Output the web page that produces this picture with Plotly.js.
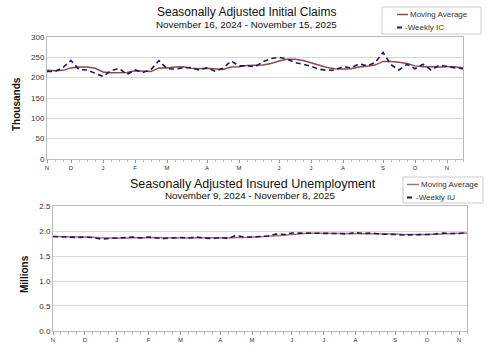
<!DOCTYPE html>
<html><head><meta charset="utf-8">
<script src="https://cdn.plot.ly/plotly-3.0.1.min.js"></script>
<style>html,body{margin:0;padding:0;background:#fff}#c{width:500px;height:354px}</style>
</head><body><div id="c"></div>
<script>
// Initial claims: weeks Nov 16, 2024 .. Nov 15, 2025 (thousands)
var weeksIC = [];
for (var i = 0; i < 53; i++) weeksIC.push(i);
var weeklyIC = [215,215,225,242,220,219,211,203,217,223,208,219,213,220,242,222,221,224,225,219,224,216,223,241,229,229,227,239,247,250,246,237,233,228,221,218,219,227,224,234,229,237,262,232,219,233,222,233,219,230,228,224,222];
var maIC = [218,217,218,224,226,226,223,214,212,213,213,217,216,215,224,224,226,227,223,222,223,221,220,226,227,230,231,231,235,241,245,245,242,236,230,225,222,221,222,226,228,231,240,240,238,235,229,227,227,226,227,227,224];
var tickIdxIC = [0,3,7,11,15,20,24,29,33,37,42,46,50];
var monthLabels = ["N","D","J","F","M","A","M","J","J","A","S","O","N"];

// Insured unemployment: weeks Nov 9, 2024 .. Nov 8, 2025 (millions)
var weeksIU = [];
for (var j = 0; j < 53; j++) weeksIU.push(j);
var weeklyIU = [1.89,1.89,1.88,1.87,1.88,1.87,1.84,1.85,1.86,1.87,1.88,1.86,1.88,1.86,1.85,1.86,1.87,1.86,1.88,1.86,1.85,1.87,1.85,1.91,1.88,1.88,1.89,1.90,1.94,1.93,1.96,1.96,1.95,1.96,1.95,1.96,1.95,1.94,1.97,1.95,1.96,1.94,1.94,1.93,1.92,1.92,1.93,1.93,1.94,1.96,1.95,1.95,1.97];
var maIU = [1.89,1.89,1.89,1.88,1.88,1.875,1.865,1.86,1.855,1.855,1.865,1.87,1.87,1.87,1.865,1.86,1.86,1.86,1.865,1.87,1.865,1.86,1.86,1.87,1.875,1.875,1.885,1.89,1.90,1.915,1.93,1.945,1.955,1.955,1.955,1.955,1.955,1.95,1.955,1.955,1.955,1.955,1.95,1.94,1.93,1.925,1.925,1.93,1.935,1.94,1.945,1.955,1.96];
var tickIdxIU = [0,4,8,12,16,21,25,30,34,38,43,47,51];

var legendNames1 = ["Moving Average", "-Weekly IC"];
var legendNames2 = ["Moving Average", "-Weekly IU"];

var FONT = "Liberation Sans, Arial, sans-serif";
var maColor = "#8b4a4a", maColor2 = "#a86f72", wkColor = "#1a1a5e";
var DASH = "5px,3.5px";

var traces = [
  {x: weeksIC, y: maIC, type: "scatter", mode: "lines", name: legendNames1[0],
   line: {color: maColor, width: 1.5}, xaxis: "x", yaxis: "y", showlegend: false},
  {x: weeksIC, y: weeklyIC, type: "scatter", mode: "lines", name: legendNames1[1],
   line: {color: wkColor, width: 1.6, dash: DASH}, xaxis: "x", yaxis: "y", showlegend: false},
  {x: weeksIU, y: maIU, type: "scatter", mode: "lines", name: legendNames2[0],
   line: {color: maColor2, width: 1.5}, xaxis: "x2", yaxis: "y2", showlegend: false},
  {x: weeksIU, y: weeklyIU, type: "scatter", mode: "lines", name: legendNames2[1],
   line: {color: wkColor, width: 1.6, dash: DASH}, xaxis: "x2", yaxis: "y2", showlegend: false}
];

function xax(dom, tv, anchor) {
  return {domain: dom, range: [0, 52], anchor: anchor, tickmode: "array", tickvals: tv, ticktext: monthLabels,
    ticks: "outside", ticklen: 3, tickcolor: "#999", showgrid: false, zeroline: false,
    showline: true, linecolor: "#bbb", mirror: true,
    tickfont: {family: FONT, size: 6, color: "#333"},
    minor: {tickmode: "linear", tick0: 0, dtick: 1, ticks: "outside", ticklen: 2, tickcolor: "#bbb", showgrid: false}};
}
function yax(dom, rng, dt, fmt, anchor) {
  return {domain: dom, range: rng, dtick: dt, tick0: 0, tickformat: fmt, anchor: anchor,
    gridcolor: "#d9d9d9", gridwidth: 1, zeroline: false, showline: true, linecolor: "#bbb", mirror: true,
    ticks: "", tickfont: {family: FONT, size: 8, color: "#333"}};
}
function px(x) { return x / 500; }
function py(y) { return 1 - y / 354; }

var annotations = [];
function addText(t, x, y, size, opts) {
  opts = opts || {};
  annotations.push({text: t, x: px(x), y: py(y), xref: "paper", yref: "paper",
    xanchor: opts.xanchor || "center", yanchor: "middle", showarrow: false,
    textangle: opts.angle || 0, font: {family: FONT, size: size, color: opts.color || "#111"}});
}
addText("Seasonally Adjusted Initial Claims", 246, 12.5, 12);
addText("November 16, 2024 - November 15, 2025", 246, 24, 9.8);
addText("Seasonally Adjusted Insured Unemployment", 253, 184, 12.5);
addText("November 9, 2024 - November 8, 2025", 250, 195, 9.8);
addText("<b>Thousands</b>", 17, 104, 10, {angle: -90});
addText("<b>Millions</b>", 24, 274, 10, {angle: -90});

var shapes = [];
function rect(x0, y0, x1, y1) {
  shapes.push({type: "rect", xref: "paper", yref: "paper", x0: px(x0), x1: px(x1), y0: py(y1), y1: py(y0),
    line: {color: "#cccccc", width: 1}, fillcolor: "#ffffff", layer: "above"});
}
function seg(x0, x1, y, color, w) {
  shapes.push({type: "line", xref: "paper", yref: "paper", x0: px(x0), x1: px(x1), y0: py(y), y1: py(y),
    line: {color: color, width: w}, layer: "above"});
}
// legend 1
rect(382, 7, 481, 34);
seg(397, 408, 14.5, maColor, 1.5);
seg(397, 402, 27.5, wkColor, 2);
addText(legendNames1[0], 408, 14.5, 8, {xanchor: "left", color: "#333"});
addText(legendNames1[1], 403, 27.5, 8, {xanchor: "left", color: "#333"});
// legend 2
rect(403, 177, 483, 203);
seg(407, 419, 184.5, maColor2, 1.5);
seg(407, 412, 197.5, wkColor, 2);
addText(legendNames2[0], 419, 184.5, 8, {xanchor: "left", color: "#333"});
addText(legendNames2[1], 414, 197.5, 8, {xanchor: "left", color: "#333"});

var layout = {
  width: 500, height: 354, margin: {l: 0, r: 0, t: 0, b: 0},
  paper_bgcolor: "#fff", plot_bgcolor: "#fff", showlegend: false,
  xaxis: xax([0.094, 0.926], tickIdxIC, "y"),
  yaxis: yax([0.5508, 0.8955], [0, 300], 50, "d", "x"),
  xaxis2: xax([0.106, 0.934], tickIdxIU, "y2"),
  yaxis2: yax([0.065, 0.418], [0, 2.5], 0.5, ".1f", "x2"),
  shapes: shapes,
  annotations: annotations
};

Plotly.newPlot("c", traces, layout, {staticPlot: true, displayModeBar: false});
</script></body></html>
